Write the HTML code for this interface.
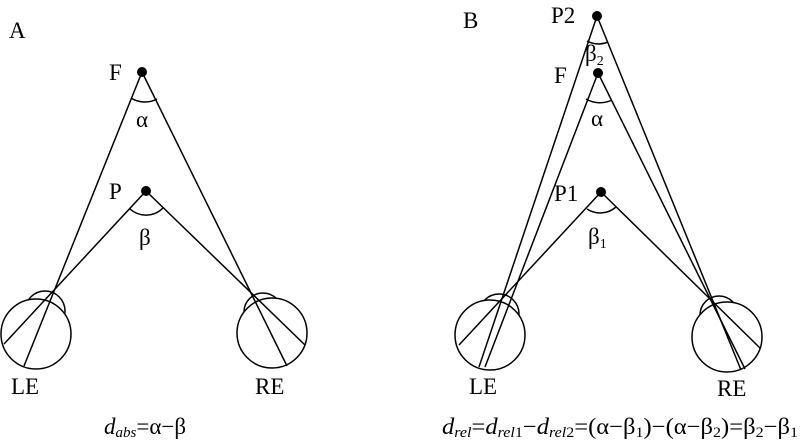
<!DOCTYPE html>
<html><head><style>body{margin:0;background:#fff}svg{display:block}text{font-family:"Liberation Serif",serif;fill:#000}</style></head><body>
<svg width="800" height="444" viewBox="0 0 800 444" xmlns="http://www.w3.org/2000/svg">
<g stroke="#000" stroke-width="1.5" fill="#fff">
<circle cx="45" cy="311" r="20"/>
<circle cx="36" cy="334" r="35"/>
<circle cx="263" cy="312" r="19"/>
<circle cx="272" cy="333" r="35"/>
<circle cx="499" cy="314" r="20"/>
<circle cx="490" cy="335" r="35"/>
<circle cx="719" cy="315" r="19"/>
<circle cx="727" cy="337" r="35"/>
</g>
<g stroke="#000" stroke-width="1.5" fill="none">
<line x1="142" y1="72" x2="24" y2="366"/>
<line x1="142" y1="72" x2="287" y2="366"/>
<line x1="146" y1="191" x2="4" y2="344"/>
<line x1="146" y1="191" x2="305" y2="345"/>
<path d="M131 98 A26 26 0 0 0 157 99"/>
<path d="M130 209 A24 24 0 0 0 163 208"/>
<line x1="597" y1="16" x2="479" y2="367"/>
<line x1="597" y1="16" x2="741" y2="370"/>
<line x1="598" y1="73" x2="485" y2="367"/>
<line x1="598" y1="73" x2="745" y2="369"/>
<line x1="601" y1="192" x2="459" y2="345"/>
<line x1="601" y1="192" x2="760" y2="348"/>
<path d="M587 41 A24 24 0 0 0 608 42"/>
<path d="M586 99 A28 28 0 0 0 612 100"/>
<path d="M587 209 A24 24 0 0 0 616 207"/>
</g>
<g fill="#000">
<circle cx="142" cy="72" r="5"/><circle cx="146" cy="191" r="5"/>
<circle cx="597" cy="16" r="5"/><circle cx="598" cy="73" r="5"/><circle cx="601" cy="192" r="5"/>
</g>
<g font-size="23">
<text x="9" y="38">A</text>
<text x="109" y="80">F</text>
<text x="136" y="127">α</text>
<text x="109" y="199">P</text>
<text x="139" y="245">β</text>
<text x="11" y="394">LE</text>
<text x="255" y="394">RE</text>
<text x="104" y="434"><tspan font-style="italic">d</tspan><tspan font-style="italic" font-size="15" dy="3">abs</tspan><tspan dy="-3">=α−β</tspan></text>
<text x="463" y="28">B</text>
<text x="551" y="23">P2</text>
<text x="585" y="61">β<tspan font-size="14" dy="4">2</tspan></text>
<text x="554" y="83">F</text>
<text x="591" y="126">α</text>
<text x="554" y="201">P1</text>
<text x="588" y="244">β<tspan font-size="14" dy="4">1</tspan></text>
<text x="469" y="394">LE</text>
<text x="717" y="396">RE</text>
<text x="442" y="434" textLength="356" lengthAdjust="spacingAndGlyphs"><tspan font-style="italic">d</tspan><tspan font-style="italic" font-size="15" dy="3">rel</tspan><tspan dy="-3">=</tspan><tspan font-style="italic">d</tspan><tspan font-style="italic" font-size="15" dy="3">rel</tspan><tspan font-size="15">1</tspan><tspan dy="-3">−</tspan><tspan font-style="italic">d</tspan><tspan font-style="italic" font-size="15" dy="3">rel</tspan><tspan font-size="15">2</tspan><tspan dy="-3">=(α−β</tspan><tspan font-size="15" dy="3">1</tspan><tspan dy="-3">)−(α−β</tspan><tspan font-size="15" dy="3">2</tspan><tspan dy="-3">)=β</tspan><tspan font-size="15" dy="3">2</tspan><tspan dy="-3">−β</tspan><tspan font-size="15" dy="3">1</tspan></text>
</g>
</svg>
</body></html>
